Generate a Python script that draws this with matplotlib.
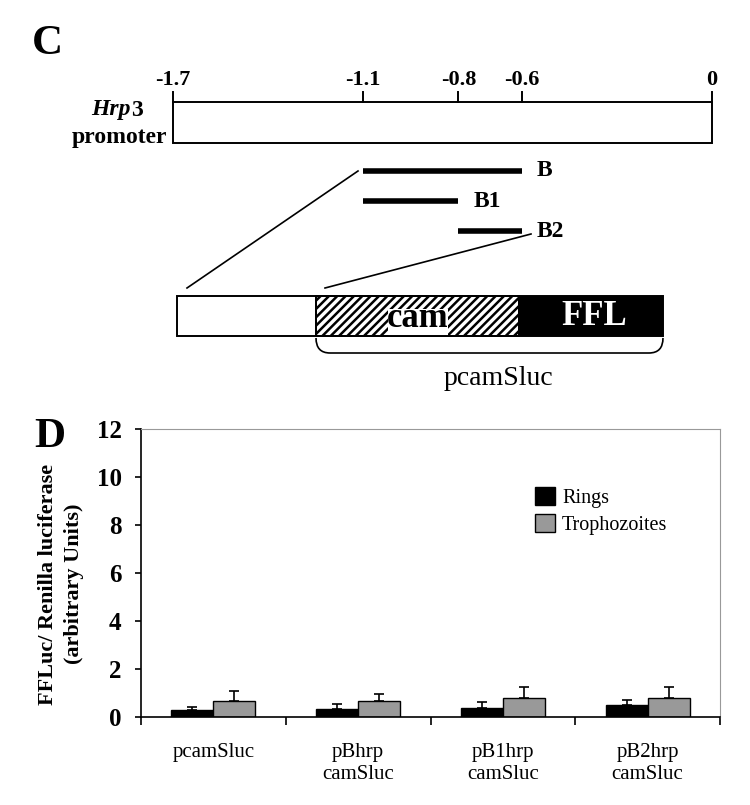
import matplotlib
matplotlib.use('Agg')
import matplotlib.pyplot as plt
from matplotlib.patches import Rectangle, PathPatch
from matplotlib.path import Path
import numpy as np

plt.rcParams['font.family'] = ['Liberation Serif', 'DejaVu Serif']
plt.rcParams['hatch.linewidth'] = 1.8

# panel C - Hrp3 promoter map (kb upstream)
scale_ticks = [-1.7, -1.1, -0.8, -0.6, 0]
scale_labels = ['-1.7', '-1.1', '-0.8', '-0.6', '0']
fragments = ['B', 'B1', 'B2']
frag_start = [-1.1, -1.1, -0.8]
frag_end = [-0.6, -0.8, -0.6]

# panel D - FFLuc / Renilla ratios
constructs = ['pcamSluc', 'pBhrp\ncamSluc', 'pB1hrp\ncamSluc', 'pB2hrp\ncamSluc']
rings = [0.29, 0.33, 0.38, 0.50]
rings_err = [0.13, 0.21, 0.23, 0.20]
trophs = [0.67, 0.67, 0.80, 0.80]
trophs_err = [0.43, 0.29, 0.43, 0.43]

W, H = 750, 805
fig = plt.figure(figsize=(W / 100, H / 100), dpi=100)

# diagram axes: x in kb, y in pixel rows (top down)
axc = fig.add_axes([0, 0, 1, 1])
k = 1.7 / 539  # kb per pixel


def px(x):
    return -1.7 + (x - 173) * k


axc.set_xlim(px(0), px(W))
axc.set_ylim(H, 0)
axc.axis('off')

axc.text(px(47), 44, 'C', fontsize=31, fontweight='bold', ha='center', va='center')
axc.text(px(50), 437, 'D', fontsize=31, fontweight='bold', ha='center', va='center')

axc.add_patch(Rectangle((-1.7, 102), 1.7, 41, fc='white', ec='black', lw=1.4))
for t, lab in zip(scale_ticks, scale_labels):
    axc.plot([t, t], [92, 102], color='black', lw=1.4)
    axc.text(t, 80, lab, ha='center', va='center', fontsize=16, fontweight='bold')

axc.text(px(131), 110, 'Hrp', style='italic', fontweight='bold', fontsize=17,
         ha='right', va='center')
axc.text(px(131), 110, '3', fontweight='bold', fontsize=17, ha='left', va='center')
axc.text(px(167), 138, 'promoter', fontweight='bold', fontsize=17, ha='right', va='center')

rows = [171, 201, 231]
for name, s, e, y in zip(fragments, frag_start, frag_end, rows):
    axc.plot([s, e], [y, y], color='black', lw=4, solid_capstyle='butt')
    axc.text(e + 15 * k, y, name, ha='left', va='center', fontsize=17, fontweight='bold')

# zoom lines
axc.plot([px(358), px(187)], [171, 288], color='black', lw=1.2)
axc.plot([px(531), px(325)], [234, 288], color='black', lw=1.2)

# reporter construct
top, bot = 296, 336
axc.add_patch(Rectangle((px(177), top), px(316) - px(177), bot - top,
                        fc='white', ec='black', lw=1.4))
axc.add_patch(Rectangle((px(316), top), px(519) - px(316), bot - top,
                        fc='white', ec='black', hatch='////', lw=1.4))
axc.add_patch(Rectangle((px(388), 309), px(448) - px(388), bot - 309,
                        fc='white', ec='none'))
axc.add_patch(Rectangle((px(316), top), px(519) - px(316), bot - top,
                        fc='none', ec='black', lw=1.4))
axc.add_patch(Rectangle((px(519), top), px(663) - px(519), bot - top,
                        fc='black', ec='black', lw=1.4))
axc.text(px(418), 318, 'cam', fontsize=25, fontweight='bold', ha='center', va='center')
axc.text(px(594), 316, 'FFL', fontsize=25, fontweight='bold', color='white',
         ha='center', va='center')

x1, x2 = px(316), px(663)
y0, y1 = 338, 353
r = 14 * k
verts = [(x1, y0), (x1, y1), (x1 + r, y1), (x2 - r, y1), (x2, y1), (x2, y0)]
codes = [Path.MOVETO, Path.CURVE3, Path.CURVE3, Path.LINETO, Path.CURVE3, Path.CURVE3]
axc.add_patch(PathPatch(Path(verts, codes), fc='none', ec='black', lw=1.2))
axc.text(px(498), 378, 'pcamSluc', fontsize=20, ha='center', va='center')

# bar chart
axd = fig.add_axes([141 / W, 1 - 717 / H, 579 / W, 288 / H])
x = np.arange(len(constructs))
bw = 0.29
zero = np.zeros(len(constructs))
axd.bar(x - bw / 2, rings, bw, color='black', edgecolor='black', lw=1, label='Rings')
axd.bar(x + bw / 2, trophs, bw, color='#999999', edgecolor='black', lw=1,
        label='Trophozoites')
axd.errorbar(x - bw / 2, rings, yerr=[zero, rings_err], fmt='none', ecolor='black',
             elinewidth=1.2, capsize=3.5, capthick=1.2)
axd.errorbar(x + bw / 2, trophs, yerr=[zero, trophs_err], fmt='none', ecolor='black',
             elinewidth=1.2, capsize=3.5, capthick=1.2)

axd.set_xlim(-0.5, 3.5)
axd.set_ylim(0, 12)
axd.set_yticks(range(0, 13, 2))
axd.set_xticks(np.arange(-0.5, 4, 1))
axd.set_xticklabels([])
axd.set_xticks(x, minor=True)
axd.set_xticklabels(constructs, minor=True, fontsize=15)
axd.tick_params(axis='x', which='minor', length=0, pad=19)
axd.tick_params(axis='x', which='major', length=6, width=1.2, direction='out')
axd.tick_params(axis='y', length=4, width=1.2, labelsize=18, pad=10)
for lab in axd.get_yticklabels():
    lab.set_fontweight('bold')
for side in ['top', 'right']:
    axd.spines[side].set_color('#999999')
for side in ['left', 'bottom']:
    axd.spines[side].set_linewidth(1.2)

axd.legend(loc='upper left', bbox_to_anchor=((535 - 141) / 579, (717 - 487) / 288),
           frameon=False, fontsize=14.5, handlelength=1.0, handleheight=1.0,
           handletextpad=0.35, labelspacing=0.3, borderpad=0, borderaxespad=0)

fig.text(61 / W, 1 - 584 / H, 'FFLuc/ Renilla luciferase\n(arbitrary Units)',
         rotation=90, ha='center', va='center', fontsize=16, fontweight='bold',
         linespacing=1.35, multialignment='center')

fig.savefig('out.png', dpi=100)
